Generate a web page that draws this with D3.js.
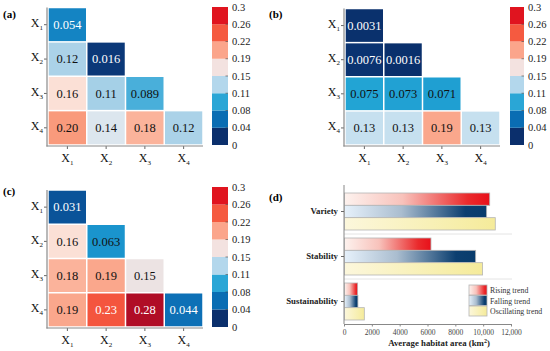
<!DOCTYPE html>
<html>
<head>
<meta charset="utf-8">
<script src="https://cdn.jsdelivr.net/npm/d3@7"></script>
<style>
  body { margin: 0; background: #fff; }
  svg { display: block; font-family: "Liberation Serif", "Times New Roman", serif; }
</style>
</head>
<body>
<svg id="chart"></svg>
<script>
// ---- data ----
const factors = ["1", "2", "3", "4"];
const qA = [[0.054], [0.12, 0.016], [0.16, 0.11, 0.089], [0.20, 0.14, 0.18, 0.12]];
const qB = [[0.0031], [0.0076, 0.0016], [0.075, 0.073, 0.071], [0.13, 0.13, 0.19, 0.13]];
const qC = [[0.031], [0.16, 0.063], [0.18, 0.19, 0.15], [0.19, 0.23, 0.28, 0.044]];
const legendTicks = ["0", "0.04", "0.08", "0.11", "0.15", "0.19", "0.22", "0.26", "0.3"];
const binColors = ["#0b2f6c", "#0a6db3", "#2aa6d6", "#b3d7ec", "#f3e2e0", "#fba58b", "#f55a40", "#e0141f"];

const categories = ["Variety", "Stability", "Sustainability"];
const trends = ["Rising trend", "Falling trend", "Oscillating trend"];
const rising = [10470, 6250, 980];
const falling = [10250, 9460, 1000];
const oscillating = [10870, 9960, 1460];
const areaTicks = [0, 2000, 4000, 6000, 8000, 10000, 12000];

const width = 550, height = 351;
const svg = d3.select("#chart").attr("width", width).attr("height", height);

// continuous colour for the cells
const cellColor = d3.scaleLinear()
  .domain([0, 0.02, 0.04, 0.06, 0.075, 0.09, 0.11, 0.12, 0.135, 0.15, 0.16, 0.18, 0.20, 0.23, 0.26, 0.28, 0.3])
  .range(["#0a2f6b", "#0b3a7b", "#0a68b1", "#1890cb", "#22a4d4", "#4cb0da", "#a5d0e7", "#abd2e8",
          "#d4e7f3", "#ece3e3", "#fbe0d6", "#fbb39b", "#f99a7c", "#f4553e", "#d7192a", "#b00d26", "#a00020"]);

const fmt = d3.format(".2r");

const drawHeat = (data, box, bar, tag) => {
  const g = svg.append("g");
  const x = d3.scaleBand().domain(factors).range([box.x0, box.x1]);
  const y = d3.scaleBand().domain(factors).range([box.y0, box.y1]);

  const cells = data.flatMap((row, i) => row.map((v, j) => ({ r: factors[i], c: factors[j], v: v })));

  g.selectAll("rect.cell")
    .data(cells)
    .enter()
    .append("rect")
    .attr("class", "cell")
    .attr("x", d => x(d.c) + 0.75)
    .attr("y", d => y(d.r) + 0.75)
    .attr("width", x.bandwidth() - 1.5)
    .attr("height", y.bandwidth() - 1.5)
    .attr("fill", d => cellColor(d.v));

  g.selectAll("text.val")
    .data(cells)
    .enter()
    .append("text")
    .attr("class", "val")
    .attr("x", d => x(d.c) + x.bandwidth() / 2)
    .attr("y", d => y(d.r) + y.bandwidth() / 2 + 4.3)
    .attr("text-anchor", "middle")
    .attr("font-size", 12.5)
    .attr("fill", d => (d.v < 0.06 || d.v > 0.22) ? "#fff" : "#111")
    .text(d => fmt(d.v));

  // axes
  const yAxis = d3.axisLeft(y).tickSize(3).tickSizeOuter(0);
  const xAxis = d3.axisBottom(x).tickSize(3).tickSizeOuter(0);

  const ya = g.append("g")
    .attr("transform", "translate(" + (box.x0 - 1) + ",0)")
    .call(yAxis);
  const xa = g.append("g")
    .attr("transform", "translate(0," + (box.y1 + 1) + ")")
    .call(xAxis);

  [ya, xa].forEach(a => {
    a.select(".domain").attr("d", null);
    a.selectAll(".tick line").attr("stroke", "#666");
    a.selectAll(".tick text")
      .attr("font-size", 12)
      .attr("font-family", "Liberation Serif, serif")
      .attr("fill", "#111")
      .each(function (d) {
        const t = d3.select(this);
        t.text("X");
        t.append("tspan").attr("font-size", 7).attr("dy", 3).text(d);
      });
  });
  ya.selectAll(".tick text").attr("x", -4).attr("dy", "0.2em");
  xa.selectAll(".tick text").attr("y", 7).attr("dy", "0.71em");

  g.append("line")
    .attr("x1", box.x0 - 1).attr("x2", box.x0 - 1)
    .attr("y1", box.y0).attr("y2", box.y1 + 1.6)
    .attr("stroke", "#8a8a8a").attr("stroke-width", 1.2);
  g.append("line")
    .attr("x1", box.x0 - 1.6).attr("x2", box.x1)
    .attr("y1", box.y1 + 1).attr("y2", box.y1 + 1)
    .attr("stroke", "#8a8a8a").attr("stroke-width", 1.2);

  // colour bar
  const cb = d3.scaleLinear().domain([0, legendTicks.length - 1]).range([bar.y1, bar.y0]);
  g.selectAll("rect.bin")
    .data(binColors)
    .enter()
    .append("rect")
    .attr("class", "bin")
    .attr("x", bar.x0)
    .attr("y", (c, i) => cb(i + 1))
    .attr("width", bar.x1 - bar.x0)
    .attr("height", (c, i) => cb(i) - cb(i + 1))
    .attr("fill", c => c);

  g.selectAll("line.cbt")
    .data(legendTicks.slice(1, -1))
    .enter()
    .append("line")
    .attr("x1", bar.x1 - 2.5).attr("x2", bar.x1)
    .attr("y1", (t, i) => cb(i + 1)).attr("y2", (t, i) => cb(i + 1))
    .attr("stroke", "#444").attr("stroke-width", 0.6);

  g.selectAll("text.cbl")
    .data(legendTicks)
    .enter()
    .append("text")
    .attr("class", "cbl")
    .attr("x", bar.x1 + 4)
    .attr("y", (t, i) => cb(i) + 3.5)
    .attr("font-size", 10.5)
    .attr("fill", "#222")
    .text(t => t);

  g.append("text")
    .attr("x", tag.x).attr("y", tag.y)
    .attr("font-size", 11).attr("font-weight", "bold")
    .text(tag.t);
};

drawHeat(qA, { x0: 48, x1: 203, y0: 7.5, y1: 145 }, { x0: 212, x1: 228, y0: 7, y1: 145 }, { x: 3, y: 18, t: "(a)" });
drawHeat(qB, { x0: 345, x1: 500, y0: 8.5, y1: 145 }, { x0: 510, x1: 524, y0: 7, y1: 145 }, { x: 269, y: 18, t: "(b)" });
drawHeat(qC, { x0: 48, x1: 203, y0: 190, y1: 327 }, { x0: 212, x1: 228, y0: 187, y1: 327 }, { x: 3, y: 195, t: "(c)" });

// ---- panel (d) ----
const defs = svg.append("defs");
const gradStops = [
  ["gRise", [["0%", "#fdf2ee"], ["40%", "#f8c2bb"], ["85%", "#ea2a2c"], ["100%", "#e8101a"]]],
  ["gFall", [["0%", "#e6f1fb"], ["40%", "#aabdcf"], ["85%", "#0c3f70"], ["100%", "#083c6c"]]],
  ["gOsc", [["0%", "#fcf7dc"], ["100%", "#f5eb9a"]]]
];
gradStops.forEach(([id, stops]) => {
  const lg = defs.append("linearGradient").attr("id", id).attr("x1", "0%").attr("x2", "100%").attr("y1", "0%").attr("y2", "0%");
  stops.forEach(s => lg.append("stop").attr("offset", s[0]).attr("stop-color", s[1]));
});
const fills = { "Rising trend": "url(#gRise)", "Falling trend": "url(#gFall)", "Oscillating trend": "url(#gOsc)" };

const xScale = d3.scaleLinear().domain([0, 12000]).range([344, 511]);
const yScale = d3.scaleBand().domain(categories).range([189, 324]);
const inner = d3.scaleBand().domain(trends).range([4, 41]);

const dg = svg.append("g");

dg.selectAll("line.sep")
  .data(categories.slice(1))
  .enter()
  .append("line")
  .attr("x1", 344).attr("x2", 512)
  .attr("y1", c => yScale(c)).attr("y2", c => yScale(c))
  .attr("stroke", "#e4e4e4").attr("stroke-width", 1);

const barData = categories.flatMap((c, i) => [
  { cat: c, trend: trends[0], v: rising[i] },
  { cat: c, trend: trends[1], v: falling[i] },
  { cat: c, trend: trends[2], v: oscillating[i] }
]);

dg.selectAll("rect.bar")
  .data(barData)
  .enter()
  .append("rect")
  .attr("class", "bar")
  .attr("x", xScale(0) + 0.5)
  .attr("y", d => yScale(d.cat) + inner(d.trend))
  .attr("width", d => xScale(d.v) - xScale(0) - 0.5)
  .attr("height", inner.bandwidth())
  .attr("fill", d => fills[d.trend])
  .attr("stroke", "#b5b5b5")
  .attr("stroke-width", 0.8);

const xAxisD = d3.axisBottom(xScale)
  .tickValues(areaTicks)
  .tickSize(2.5)
  .tickSizeOuter(0)
  .tickFormat(d => d >= 10000 ? d3.format(",")(d) : d);
const xa = dg.append("g").attr("transform", "translate(0,324)").call(xAxisD);
xa.select(".domain").attr("stroke", "#888");
xa.selectAll(".tick line").attr("stroke", "#888");
xa.selectAll(".tick text").attr("font-size", 7.5).attr("font-family", "Liberation Serif, serif").attr("fill", "#444");

const yAxisD = d3.axisLeft(yScale).tickSize(3).tickSizeOuter(0);
const ya = dg.append("g").attr("transform", "translate(344,0)").call(yAxisD);
ya.select(".domain").attr("d", "M0,185V324").attr("stroke", "#888");
ya.selectAll(".tick line").attr("stroke", "#666");
ya.selectAll(".tick text").attr("font-size", 8.8).attr("font-weight", "bold").attr("font-family", "Liberation Serif, serif").attr("fill", "#222");

const title = dg.append("text")
  .attr("x", 439).attr("y", 346)
  .attr("text-anchor", "middle")
  .attr("font-size", 8.8).attr("font-weight", "bold").attr("fill", "#222")
  .text("Average habitat area (km");
title.append("tspan").attr("font-size", 6).attr("dy", -3.5).text("2");
title.append("tspan").attr("dy", 3.5).text(")");

// legend
const lg = dg.selectAll("g.leg")
  .data(trends)
  .enter()
  .append("g")
  .attr("class", "leg")
  .attr("transform", (t, i) => "translate(469," + (285 + i * 10.5) + ")");
lg.append("rect")
  .attr("width", 18).attr("height", 10)
  .attr("fill", t => fills[t])
  .attr("stroke", "#b5b5b5").attr("stroke-width", 0.8);
lg.append("text")
  .attr("x", 21).attr("y", 8)
  .attr("font-size", 7.8).attr("fill", "#333")
  .text(t => t);

dg.append("text")
  .attr("x", 269).attr("y", 201)
  .attr("font-size", 11).attr("font-weight", "bold")
  .text("(d)");
</script>
</body>
</html>
